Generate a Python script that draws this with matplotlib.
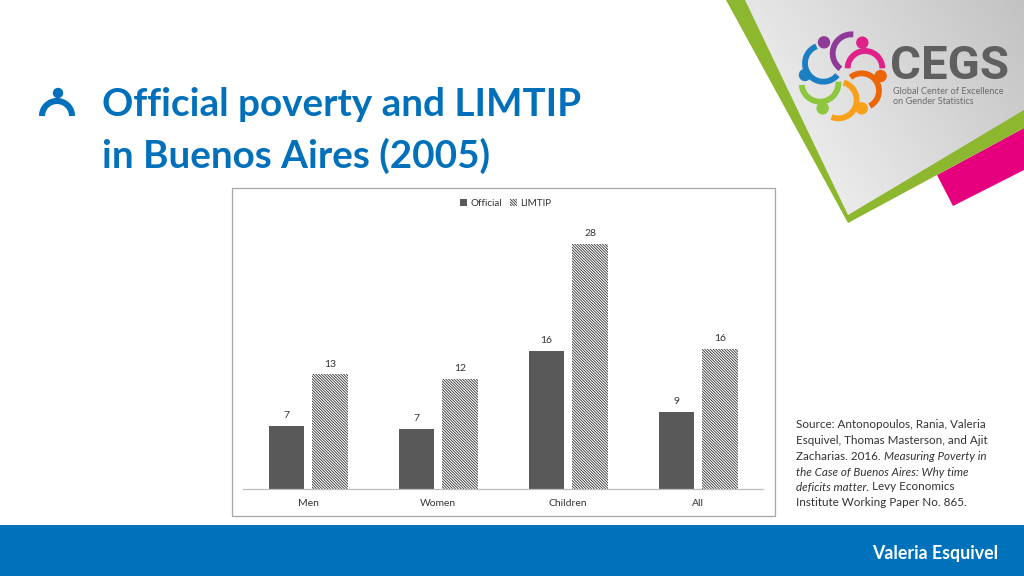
#!/usr/bin/env python3
"""Official poverty and LIMTIP in Buenos Aires (2005) slide"""

import matplotlib
matplotlib.use('Agg')
import matplotlib.pyplot as plt
from matplotlib.patches import Polygon, Rectangle, Circle
import numpy as np

categories = ['Men', 'Women', 'Children', 'All']
official = [7.2, 6.9, 15.8, 8.8]
limtip = [13.1, 12.6, 28.0, 16.0]
official_labels = ['7', '7', '16', '9']
limtip_labels = ['13', '12', '28', '16']

title_lines = ['Official poverty and LIMTIP', 'in Buenos Aires (2005)']
footer = 'Valeria Esquivel'

BLUE = '#0070BA'
TEXT = '#333333'
plt.rcParams['font.family'] = ['Lato', 'DejaVu Sans']
plt.rcParams['hatch.linewidth'] = 0.6

fig = plt.figure(figsize=(10.24, 5.76), dpi=100)

# full page axes in pixel coordinates for the slide decoration
bg = fig.add_axes([0, 0, 1, 1])
bg.set_xlim(0, 1024)
bg.set_ylim(576, 0)
bg.axis('off')


def draw_arc(cx, cy, r, start, end, color):
    t = np.radians(np.linspace(start, end, 60))
    xs = 720 + (cx + r * np.cos(t)) / 3
    ys = (cy + r * np.sin(t)) / 3
    bg.plot(xs, ys, color=color, lw=4.2, solid_capstyle='butt', zorder=3)


def draw_head(cx, cy, color):
    bg.add_patch(Circle((720 + cx / 3, cy / 3), 6.2, color=color, lw=0, zorder=3))


# corner panel
bg.add_patch(Polygon([(937, 175), (1024, 128), (1024, 170), (953, 206)],
                     color='#E6007E', lw=0))
bg.add_patch(Polygon([(726, 0), (745, 0), (1024, 0), (1024, 128), (848, 223)],
                     color='#8DB72E', lw=0))
panel = Polygon([(745, 0), (1024, 0), (1024, 110), (848, 215)],
                transform=bg.transData, fc='none', lw=0)
bg.add_patch(panel)
# lighter towards the bottom left, darker towards the right
gx, gy = np.meshgrid(np.linspace(0, 1, 140), np.linspace(0, 1, 110))
grad = 0.90 - 0.14 * gx + 0.07 * gy
img = bg.imshow(grad, extent=(745, 1024, 215, 0), cmap='gray', vmin=0, vmax=1,
                aspect='auto', zorder=1)
img.set_clip_path(panel)
bg.set_xlim(0, 1024)
bg.set_ylim(576, 0)

# logo
logo = [
    (395, 160, 57, 275, 126, '#8E3A96', 312, 127),
    (435, 205, 52, 180, 360, '#E0218A', 427, 128),
    (425, 272, 52, 230, 422, '#EC6608', 482, 228),
    (355, 300, 55, -73, 112, '#F9A01B', 425, 325),
    (300, 250, 55, 175, -5, '#8DC63F', 308, 325),
    (310, 190, 55, 248, 40, '#1C7FC4', 255, 225),
]
for cx, cy, r, a0, a1, col, hx, hy in logo:
    draw_arc(cx, cy, r, a0, a1, col)
    draw_head(hx, hy, col)
bg.text(890, 66, 'CEGS', color='#5F5F5F', fontsize=34, fontweight='bold',
        family='Roboto', ha='left', va='center', zorder=3)
bg.text(893, 91, 'Global Center of Excellence', color='#6B6B6B', fontsize=6.6,
        ha='left', va='center', zorder=3)
bg.text(893, 101, 'on Gender Statistics', color='#6B6B6B', fontsize=6.6,
        ha='left', va='center', zorder=3)

# title and person icon
bg.text(102, 105, title_lines[0], color=BLUE, fontsize=27.8, fontweight='bold',
        ha='left', va='center')
bg.text(102, 156, title_lines[1], color=BLUE, fontsize=27.8, fontweight='bold',
        ha='left', va='center')
bg.add_patch(Circle((58, 93), 5.2, color=BLUE, lw=0))
t = np.radians(np.linspace(180, 360, 40))
bg.plot(57 + 15 * np.cos(t), 116 + 15 * np.sin(t), color=BLUE, lw=4.4,
        solid_capstyle='butt')

# footer bar
bg.add_patch(Rectangle((0, 525), 1024, 51, color='#0072BC', lw=0))
bg.text(998, 553, footer, color='white', fontsize=12.8, fontweight='bold',
        ha='right', va='center')

# chart frame
bg.add_patch(Rectangle((231.5, 187.5), 543, 328, fc='white', ec='#A6A6A6', lw=0.9,
                       zorder=2))

# chart
ax = fig.add_axes([243 / 1024, 1 - 489 / 576, 520 / 1024, 264 / 576], zorder=5)
ax.patch.set_alpha(0)
x = np.arange(len(categories))
bar_w = 0.273
bars1 = ax.bar(x - 0.167, official, bar_w, color='#595959', label='Official')
bars2 = ax.bar(x + 0.17, limtip, bar_w, facecolor='white', edgecolor='#333333',
               linewidth=0, hatch='\\' * 12, label='LIMTIP')

for bars, labels in [(bars1, official_labels), (bars2, limtip_labels)]:
    for bar, lab in zip(bars, labels):
        ax.annotate(lab, (bar.get_x() + bar.get_width() / 2, bar.get_height()),
                    xytext=(0, 4), textcoords='offset points', ha='center',
                    va='bottom', fontsize=7.5, color=TEXT)

ax.set_xlim(-0.5, 3.5)
ax.set_ylim(0, 264 / 8.75)
ax.set_xticks(x)
ax.set_xticklabels(categories, fontsize=7.5, color=TEXT)
ax.set_yticks([])
ax.tick_params(axis='x', length=0, pad=7)
for side in ['top', 'left', 'right']:
    ax.spines[side].set_visible(False)
ax.spines['bottom'].set_color('#BFBFBF')
ax.spines['bottom'].set_linewidth(0.9)

ax.legend(loc='center', bbox_to_anchor=(506 / 1024, 1 - 203 / 576),
          bbox_transform=fig.transFigure, ncol=2, frameon=False, fontsize=7.1,
          labelcolor=TEXT, handlelength=0.7, handleheight=0.7,
          handletextpad=0.35, columnspacing=0.8)

# source note, the italic part follows on from the roman part
source_y = [425, 441, 456, 472, 487, 502]
source_parts = [
    [('Source: Antonopoulos, Rania, Valeria', 'normal')],
    [('Esquivel, Thomas Masterson, and Ajit', 'normal')],
    [('Zacharias. 2016. ', 'normal'), ('Measuring Poverty in', 'italic')],
    [('the Case of Buenos Aires: Why time', 'italic')],
    [('deficits matter. ', 'italic'), ('Levy Economics', 'normal')],
    [('Institute Working Paper No. 865.', 'normal')],
]
fig.canvas.draw()
renderer = fig.canvas.get_renderer()
inv = bg.transData.inverted()
for y, parts in zip(source_y, source_parts):
    pos = 796
    for txt, style in parts:
        t_obj = bg.text(pos, y, txt, fontsize=8.35, style=style, color=TEXT,
                        ha='left', va='center', zorder=6)
        pos = inv.transform((t_obj.get_window_extent(renderer).x1, 0))[0]

fig.savefig('out.png', dpi=100)
